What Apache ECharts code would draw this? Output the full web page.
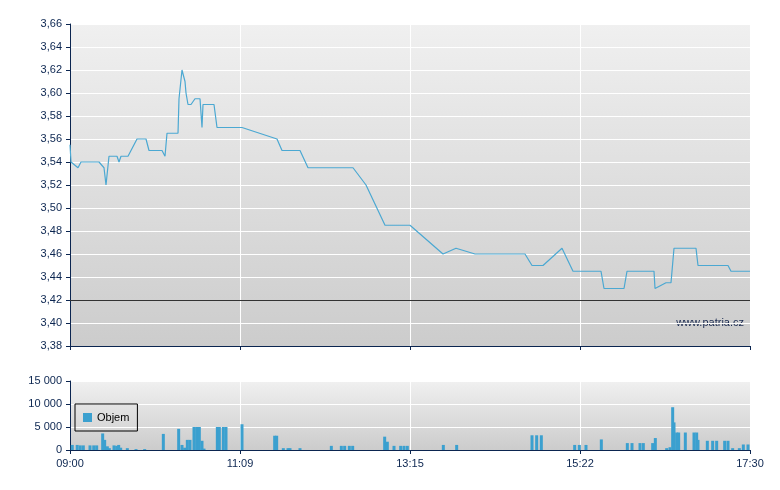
<!DOCTYPE html><html><head><meta charset="utf-8">
<script src="https://cdn.jsdelivr.net/npm/echarts@6/dist/echarts.min.js"></script>
<style>html,body{margin:0;background:#fff}#c{width:780px;height:490px}</style></head><body><div id="c"></div>
<script>
const xLabels=['09:00','11:09','13:15','15:22','17:30'];
const priceMin=[0,0.75,6,8.25,21.75,25.5,27,29.25,35.25,36.75,38.25,43.5,50.25,57,59.25,69,71.25,72.75,81,81.75,84,86.25,87,88.5,90.75,93.75,97.5,99,99.75,108,110.25,129,155.25,159,172.5,178.5,212.25,222,236.25,255,279.75,289.5,303.75,341.25,346.5,354.75,369,377.25,398.25,400.5,415.5,417.75,438,438.75,447,450.75,453,469.5,471,493.5,495.75,510];
const priceVal=[3.555,3.54,3.535,3.54,3.54,3.535,3.52,3.545,3.545,3.54,3.545,3.545,3.56,3.56,3.55,3.55,3.545,3.565,3.565,3.595,3.62,3.61,3.6,3.59,3.59,3.595,3.595,3.57,3.59,3.59,3.57,3.57,3.56,3.55,3.55,3.535,3.535,3.52,3.485,3.485,3.46,3.465,3.46,3.46,3.45,3.45,3.465,3.445,3.445,3.43,3.43,3.445,3.445,3.43,3.435,3.435,3.465,3.465,3.45,3.45,3.445,3.445];
const volMin=[1.7,5.4,7.7,10,15,17.8,20,24.5,26,28,29.5,33,35,36.5,38,43,49.5,56,70,81.5,84,86,88,90,93,95,97,99,100.5,110.5,112,115,117,129,153.5,155,160,163.5,165,172.5,196,203.5,206,209.5,212,236,238,243,248,250.5,253,280,290,346.5,350,353.5,378.5,382,387,398.5,418,421.5,427.5,430,437,439,447.5,450,452,453,455,456.5,461.5,468,470,471,478,482,485,491,493.5,497,502,505,508.5];
const volVal=[1100,1100,1000,1000,1000,1000,1000,3600,2200,800,400,1000,900,1100,500,400,200,200,3500,4600,1100,500,2200,2200,5000,5000,5000,2000,300,5000,5000,5000,5000,5600,3100,3100,400,400,400,400,900,900,900,900,900,2900,1800,900,900,900,900,1100,1100,3200,3200,3200,1100,1100,1100,2300,1500,1500,1500,1500,1500,2600,400,600,9300,6000,3800,3800,3800,3800,3800,2200,2000,2000,2000,2000,2000,400,400,1200,1200];
const bg={type:'linear',x:0,y:0,x2:0,y2:1,colorStops:[{offset:0,color:'#f0f0f0'},{offset:1,color:'#cccccc'}]};
const axCol='#0b2550',txt={color:'#0b2550',fontSize:11,fontFamily:'Liberation Sans, Arial'};
const xa=(i,show)=>({type:'value',gridIndex:i,min:0,max:510,interval:127.5,
 axisLine:{show:true,lineStyle:{color:axCol}},axisTick:{show:true,length:4,lineStyle:{color:axCol}},
 splitLine:{show:true,lineStyle:{color:'#fff',width:1}},
 axisLabel:{show:show,...txt,formatter:v=>xLabels[Math.round(v/127.5)]}});
const chart=echarts.init(document.getElementById('c'));
chart.setOption({animation:false,
 grid:[{left:70,right:30,top:24,height:322,show:true,backgroundColor:bg,borderWidth:0},
       {left:70,right:30,top:381,height:69,show:true,backgroundColor:bg,borderWidth:0}],
 xAxis:[xa(0,false),xa(1,true)],
 yAxis:[{type:'value',gridIndex:0,min:3.38,max:3.66,interval:0.02,axisLine:{show:true,lineStyle:{color:axCol}},axisTick:{show:true,length:4,lineStyle:{color:axCol}},splitLine:{lineStyle:{color:'#fff'}},axisLabel:{...txt,formatter:v=>v.toFixed(2).replace('.',',')}},
        {type:'value',gridIndex:1,min:0,max:15000,interval:5000,axisLine:{show:true,lineStyle:{color:axCol}},axisTick:{show:true,length:4,lineStyle:{color:axCol}},splitLine:{lineStyle:{color:'#fff'}},axisLabel:{...txt,formatter:v=>v===0?'0':String(v).replace(/\B(?=(\d{3})+$)/g,' ')}}],
 legend:{left:75,top:404,orient:'vertical',borderColor:'#000',borderWidth:1,backgroundColor:'rgba(0,0,0,0)',padding:[8,8],itemWidth:9,itemHeight:9,icon:'rect',textStyle:{...txt,color:'#000'},data:['Objem'],borderRadius:0},
 graphic:[{type:'text',right:36,top:317,style:{text:'www.patria.cz',fill:'#1a2a50',font:'11px Liberation Sans, Arial'}}],
 series:[{type:'line',xAxisIndex:0,yAxisIndex:0,data:priceMin.map((m,i)=>[m,priceVal[i]]),symbol:'none',lineStyle:{color:'#4ba8d2',width:1.2},
   markLine:{silent:true,symbol:'none',label:{show:false},lineStyle:{color:'#333',width:1,type:'solid'},data:[{yAxis:3.415}]}},
  {name:'Objem',type:'bar',xAxisIndex:1,yAxisIndex:1,data:volMin.map((m,i)=>[m,volVal[i]]),barWidth:3,itemStyle:{color:'#3ba0cf',borderColor:'#2a80b0',borderWidth:0}}]
});
</script></body></html>
